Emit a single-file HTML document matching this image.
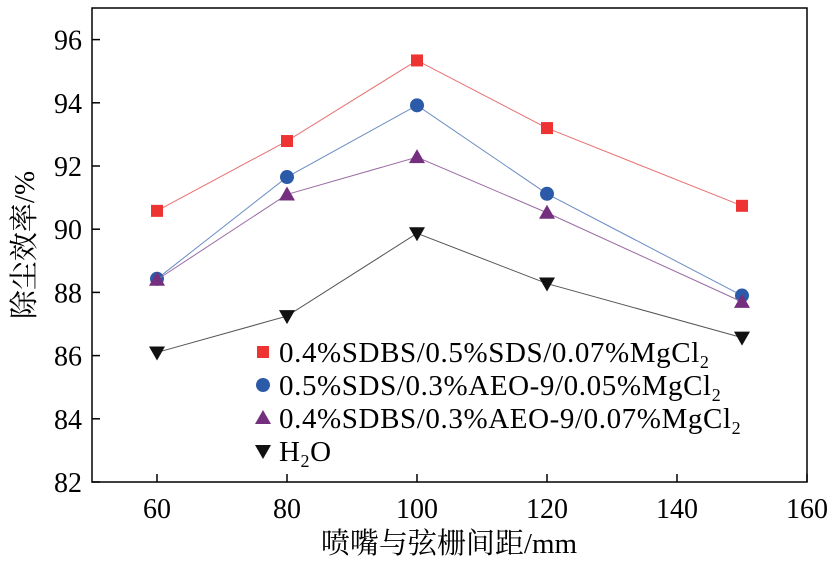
<!DOCTYPE html>
<html><head><meta charset="utf-8"><style>
body{margin:0;background:#fff}
svg,svg text{font-family:"Liberation Serif","DejaVu Serif","Noto Serif CJK SC",serif}
</style></head><body>
<svg id="c" width="831" height="563" xmlns="http://www.w3.org/2000/svg"></svg>
<script>
const xVals=[60,80,100,120,150];
const redVals=[90.58,92.79,95.34,93.2,90.74];
const blueVals=[88.43,91.65,93.92,91.12,87.9];
const purpleVals=[88.4,91.1,92.28,90.52,87.7];
const blackVals=[86.1,87.25,89.87,88.28,86.57];
const xTicks=[60,80,100,120,140,160];
const yTicks=[82,84,86,88,90,92,94,96];
const legendLabels=['0.4%SDBS/0.5%SDS/0.07%MgCl','0.5%SDS/0.3%AEO-9/0.05%MgCl','0.4%SDBS/0.3%AEO-9/0.07%MgCl','H'];
const L=92,R=807,T=8,B=482;
const FF='"Liberation Serif","DejaVu Serif","Noto Serif CJK SC",serif';
const sx=v=>L+(v-50)/110*(R-L);
const sy=v=>B-(v-82)/15*(B-T);
const svg=document.getElementById('c');
const NS='http://www.w3.org/2000/svg';
function mk(t,a,p){const e=document.createElementNS(NS,t);for(const k in a)e.setAttribute(k,a[k]);if(t==='text')e.setAttribute('font-family',FF);(p||svg).appendChild(e);return e;}
let fr=mk('rect',{x:L,y:T,width:R-L,height:B-T,fill:'none',stroke:'#000','stroke-width':1.5});


xTicks.forEach(v=>{const x=sx(v);
 let l=mk('line',{x1:x,x2:x,y1:B,y2:B-8,stroke:'#000','stroke-width':1.5});
 
 
 let t=mk('text',{x:x,y:B+36,'text-anchor':'middle','font-size':28});t.textContent=v;
 
 });
yTicks.forEach(v=>{const y=sy(v);
 let l=mk('line',{x1:L,x2:L+8,y1:y,y2:y,stroke:'#000','stroke-width':1.5});
 
 
 let t=mk('text',{x:L-10,y:y+10,'text-anchor':'end','font-size':28});t.textContent=v;
 
 });
let xt=mk('text',{x:449,y:553,'text-anchor':'middle','font-size':29});xt.textContent='喷嘴与弦栅间距/mm';


let yt=mk('text',{x:0,y:0,'text-anchor':'middle','font-size':29,transform:'translate(34,245) rotate(-90)'});yt.textContent='除尘效率/%';


function marker(kind,x,y,col,p){
 let e;
 if(kind==='sq')e=mk('rect',{x:x-6,y:y-6,width:12,height:12,fill:col},p);
 else if(kind==='ci')e=mk('circle',{cx:x,cy:y,r:7,fill:col},p);
 else if(kind==='up')e=mk('polygon',{points:`${x-8},${y+6} ${x+8},${y+6} ${x},${y-8}`,fill:col},p);
 else e=mk('polygon',{points:`${x-8},${y-6} ${x+8},${y-6} ${x},${y+8}`,fill:col},p);
 return e;}
const series=[[redVals,'#ee3333','#e87070','sq','red'],[blueVals,'#2b5ba8','#6a8cc4','ci','blue'],[purpleVals,'#74307f','#9a6aa3','up','purple'],[blackVals,'#111','#555','dn','h2o']];
series.forEach(([vals,col,lc,kind,nm])=>{
 const g=mk('g',{});
 
 
 let pl=mk('polyline',{points:vals.map((v,i)=>sx(xVals[i])+','+sy(v)).join(' '),fill:'none',stroke:lc,'stroke-width':1},g);
 
 
 vals.forEach((v,i)=>{let m=marker(kind,sx(xVals[i]),sy(v),col,g);
  
  });
});
const ly=[352,385,418,451];
series.forEach(([v,col,lc,kind,nm],i)=>{
 const g=mk('g',{});
 
 
 marker(kind,263,ly[i],col,g);
 const t=mk('text',{x:279,y:ly[i]+10,'font-size':29,'letter-spacing':0.6},g);
 t.textContent=legendLabels[i];
 const s=mk('tspan',{'font-size':18,dy:6},t);s.textContent='2';
 if(i===3){const o=mk('tspan',{dy:-6},t);o.textContent='O';}
});
</script>
</body></html>
